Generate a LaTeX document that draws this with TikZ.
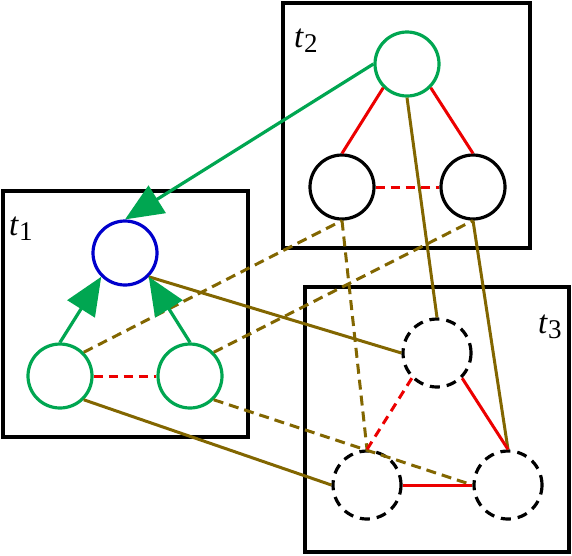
\documentclass[tikz,border=0pt]{standalone}
\usepackage{fontspec}
\setmainfont{Liberation Serif}
\usetikzlibrary{arrows.meta}
\definecolor{vgreen}{RGB}{0,166,81}
\definecolor{vblue}{RGB}{0,0,204}
\definecolor{vred}{RGB}{236,0,0}
\definecolor{volive}{RGB}{130,102,0}
\tikzset{
  boxst/.style={draw=black,line width=3.2pt},
  cnode/.style={circle,minimum size=64pt,inner sep=0pt,line width=3.2pt,fill=white},
  gnode/.style={cnode,draw=vgreen},
  bnode/.style={cnode,draw=vblue},
  knode/.style={cnode,draw=black},
  dnode/.style={cnode,draw=black,minimum size=68pt,dash pattern=on 10pt off 7pt},
  garrow/.style={draw=vgreen,line width=3.2pt,-{Triangle[length=38pt,width=32pt]}},
  redsolid/.style={draw=vred,line width=3pt},
  reddash/.style={draw=vred,line width=3pt,dash pattern=on 9pt off 6pt},
  olsolid/.style={draw=volive,line width=3pt},
  oldash/.style={draw=volive,line width=3pt,dash pattern=on 10pt off 6pt},
  lbl/.style={inner sep=0pt,anchor=base west,font=\fontsize{33}{33}\selectfont}
}
\newcommand{\sublbl}[1]{\textit{t}\raisebox{-5pt}{\fontsize{27}{27}\selectfont #1}}
\begin{document}
\begin{tikzpicture}[x=1pt,y=-1pt]
\useasboundingbox (0,0) rectangle (572,555);
% boxes
\draw[boxst] (3,191) rectangle (248,437);
\draw[boxst] (283,3) rectangle (530,248);
\draw[boxst] (305,287) rectangle (569,552);
% labels
\node[lbl] (l1) at (9,235) {\sublbl{1}};
\node[lbl] (l2) at (294,47) {\sublbl{2}};
\node[lbl] (l3) at (538,333) {\sublbl{3}};
% nodes
\node[bnode] (b1) at (125,253) {};
\node[gnode] (g1l) at (60,376) {};
\node[gnode] (g1r) at (190,376) {};
\node[gnode] (g2) at (407,64) {};
\node[knode] (k2l) at (342,187) {};
\node[knode] (k2r) at (473,187) {};
\node[dnode] (d3t) at (437,353) {};
\node[dnode] (d3l) at (367,485) {};
\node[dnode] (d3r) at (508,485) {};
% olive correspondences
\draw[olsolid] (b1.south east) -- (d3t.west);
\draw[olsolid] (g1l.south east) -- (d3l.west);
\draw[olsolid] (g2.south) -- (d3t.north);
\draw[olsolid] (k2r.south) -- (d3r.north);
\draw[oldash] (g1l.north east) -- (k2l.south);
\draw[oldash] (k2l.south) -- (d3l.north);
\draw[oldash] (g1r.north east) -- (k2r.south);
\draw[oldash] (g1r.south east) -- (d3r.west);
% red edges
\draw[reddash] (g1l.east) -- (g1r.west);
\draw[redsolid] (g2.south west) -- (k2l.north);
\draw[redsolid] (g2.south east) -- (k2r.north);
\draw[reddash] (k2l.east) -- (k2r.west);
\draw[reddash] (d3t.south west) -- (d3l.north);
\draw[redsolid] (d3t.south east) -- (d3r.north);
\draw[redsolid] (d3l.east) -- (d3r.west);
% green arrows
\draw[garrow] (g2.west) -- (b1.north);
\draw[garrow] (g1l.north) -- (b1.south west);
\draw[garrow] (g1r.north) -- (b1.south east);
\end{tikzpicture}
\end{document}
